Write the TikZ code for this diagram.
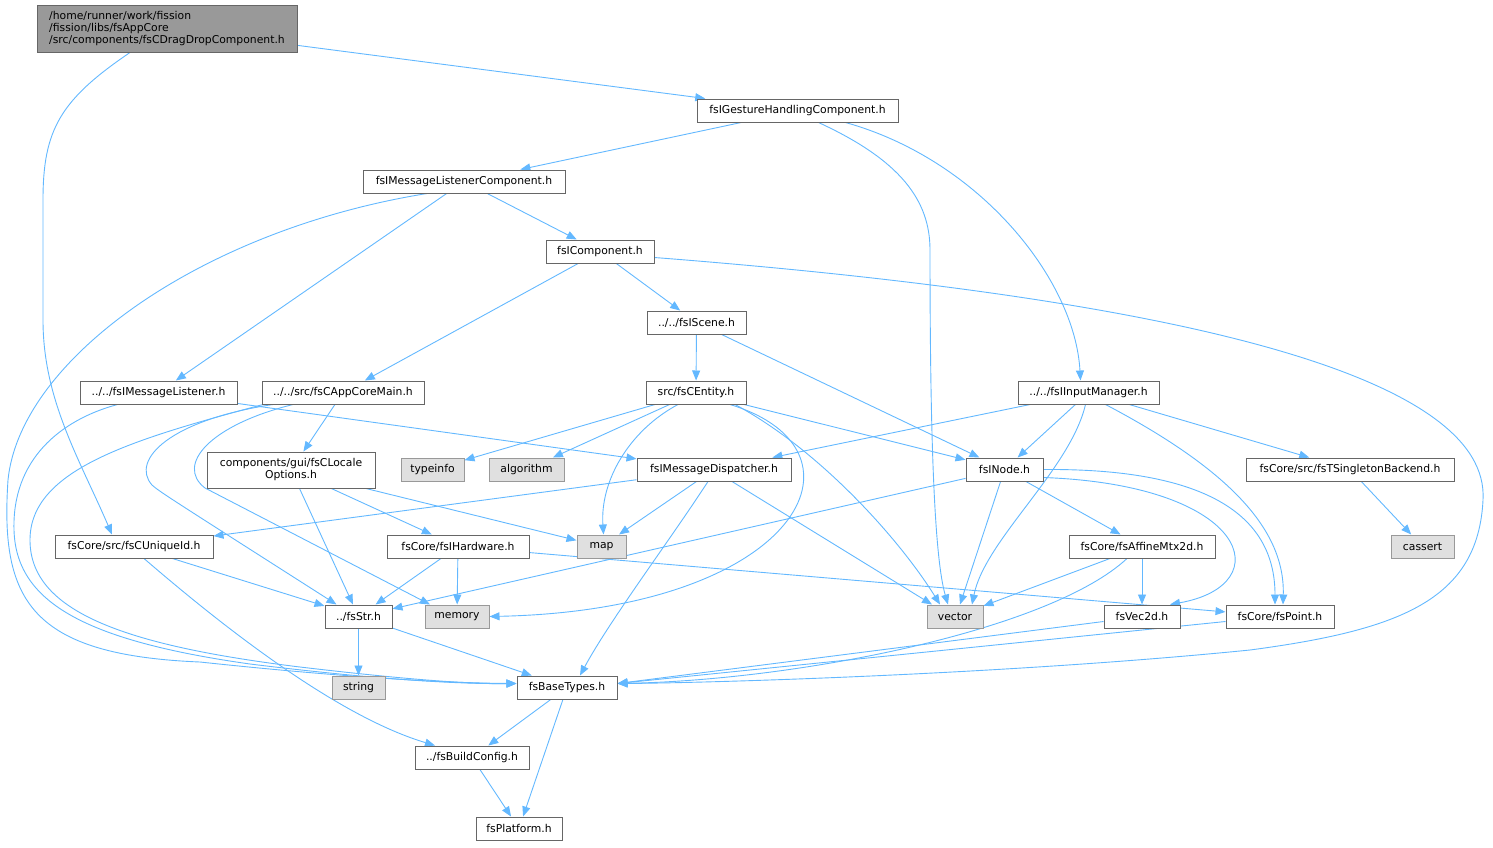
\documentclass[tikz,border=0pt]{standalone}
\usepackage{fontspec}
\setmainfont{DejaVu Sans}
\usepackage{tikz}
\usetikzlibrary{positioning}
\usetikzlibrary{arrows.meta}

\definecolor{edgeblue}{HTML}{63B8FF}
\definecolor{boxgray}{HTML}{666666}
\definecolor{rootfill}{HTML}{999999}
\definecolor{sysfill}{HTML}{E0E0E0}
\definecolor{sysline}{HTML}{999999}

\pgfdeclarelayer{background}
\pgfsetlayers{background,main}

\begin{document}
\begin{tikzpicture}[x=1pt,y=-1pt]

 \tikzset{file node/.style={
 		draw=boxgray, fill=white,
 		line width=1pt,
 		minimum width=#1,
 		minimum height=23pt,
 		inner sep=0pt,
 		font=\fontsize{10.8}{12}\selectfont
 	},
 	file node/.default=100pt,
 	sys node/.style={file node=#1, draw=sysline, fill=sysfill},
 	dep edge/.style={draw=edgeblue, line width=0.9pt,
 		-{Triangle[length=10pt,width=8pt]}}
 }
 \useasboundingbox (0,0) rectangle (1493,847);

 % files
 \node[file node=260pt, fill=rootfill, minimum height=47pt, align=left] (root) at (167,28.5)
 	{/home/runner/work/fission\\/fission/libs/fsAppCore\\/src/components/fsCDragDropComponent.h};
 \node[file node=201pt] (gesture) at (797.5,110.5) {fsIGestureHandlingComponent.h};
 \node[file node=202pt] (listenercomp) at (464,181.5) {fsIMessageListenerComponent.h};
 \node[file node=108pt] (component) at (600,251.5) {fsIComponent.h};
 \node[file node=99pt] (scene) at (696.5,322.5) {../../fsIScene.h};
 \node[file node=157pt] (listener) at (158.5,392.5) {../../fsIMessageListener.h};
 \node[file node=162pt] (coremain) at (343,392.5) {../../src/fsCAppCoreMain.h};
 \node[file node=100pt] (entity) at (696,392.5) {src/fsCEntity.h};
 \node[file node=141pt] (input) at (1088.5,392.5) {../../fsIInputManager.h};
 \node[file node=168pt, minimum height=36pt, align=center] (locale) at (291,470)
 	{components/gui/fsCLocale\\Options.h};
 \node[sys node=63pt] (typeinfo) at (432.5,469.5) {typeinfo};
 \node[sys node=75pt] (algorithm) at (526.5,469.5) {algorithm};
 \node[file node=154pt] (dispatcher) at (714,469.5) {fsIMessageDispatcher.h};
 \node[file node=77pt] (inode) at (1004.5,469.5) {fsINode.h};
 \node[file node=208pt] (singleton) at (1350,469.5) {fsCore/src/fsTSingletonBackend.h};
 \node[file node=158pt] (uniqueid) at (134,546.5) {fsCore/src/fsCUniqueId.h};
 \node[file node=142pt] (hardware) at (458,546.5) {fsCore/fsIHardware.h};
 \node[sys node=49pt] (map) at (601.5,546.5) {map};
 \node[file node=146pt] (affine) at (1142,546.5) {fsCore/fsAffineMtx2d.h};
 \node[sys node=63pt] (cassert) at (1422.5,546.5) {cassert};
 \node[file node=67pt] (str) at (358.5,616.5) {../fsStr.h};
 \node[sys node=64pt] (memory) at (457,616.5) {memory};
 \node[sys node=56pt] (vector) at (955,616.5) {vector};
 \node[file node=76pt] (vec2d) at (1142,616.5) {fsVec2d.h};
 \node[file node=108pt] (point) at (1280,616.5) {fsCore/fsPoint.h};
 \node[sys node=53pt] (string) at (358.5,687.5) {string};
 \node[file node=100pt] (basetypes) at (567,687.5) {fsBaseTypes.h};
 \node[file node=114pt] (buildcfg) at (472,757.5) {../fsBuildConfig.h};
 \node[file node=86pt] (platform) at (519,828.5) {fsPlatform.h};

 \begin{pgfonlayer}{background}
 % root
 \draw[dep edge] (root) -- (gesture);
 \draw[dep edge] ([xshift=-37pt]root.south) .. controls (60,100) and (43,130) .. (43,200)
 	-- (43,320) .. controls (43,400) and (80,460) .. ([xshift=-22pt]uniqueid.north);
 % gesture handling
 \draw[dep edge] (gesture) -- (listenercomp);
 \draw[dep edge] ([xshift=21pt]gesture.south) .. controls (900,160) and (930,200) .. (930,250)
 	.. controls (930,450) and (935,560) .. ([xshift=-7pt]vector.north);
 \draw[dep edge] ([xshift=48pt]gesture.south) .. controls (980,160) and (1075,280) .. ([xshift=-8pt]input.north);
 % listener component
 \draw[dep edge] (listenercomp) -- (component);
 \draw[dep edge] (listenercomp) -- (listener);
 \draw[dep edge] ([xshift=-37pt]listenercomp.south) .. controls (200,230) and (20,360) .. (8,480)
 	.. controls (0,600) and (30,655) .. (200,662) .. controls (350,678) and (450,683) .. ([yshift=4pt]basetypes.west);
 % component
 \draw[dep edge] (component) -- (scene);
 \draw[dep edge] (component) -- (coremain);
 \draw[dep edge] ([yshift=-6pt]component.east) .. controls (1200,300) and (1490,380) .. (1483,500)
 	.. controls (1478,600) and (1400,630) .. (1250,650) .. controls (1000,675) and (700,683) .. ([yshift=4pt]basetypes.east);
 % scene
 \draw[dep edge] (scene) -- (entity);
 \draw[dep edge] (scene) -- (inode);
 % listener
 \draw[dep edge] (listener) -- (dispatcher);
 \draw[dep edge] ([xshift=-41pt]listener.south) .. controls (60,420) and (12,460) .. (14,530)
 	.. controls (16,600) and (80,640) .. (250,664) .. controls (380,680) and (460,684) .. ([yshift=4pt]basetypes.west);
 % app core main
 \draw[dep edge] (coremain) -- (locale);
 \draw[dep edge] ([xshift=-70pt]coremain.south) .. controls (170,420) and (130,460) .. (152,485)
 	.. controls (160,492) and (165,495) .. ([xshift=-22pt]str.north);
 \draw[dep edge] ([xshift=-50pt]coremain.south) .. controls (210,425) and (175,465) .. (205,488)
 	-- ([xshift=-27pt]memory.north);
 \draw[dep edge] ([xshift=-80pt]coremain.south) .. controls (130,440) and (30,470) .. (30,540)
 	.. controls (30,610) and (120,645) .. (300,667) .. controls (410,680) and (470,684) .. ([yshift=4pt]basetypes.west);
 % entity
 \draw[dep edge] (entity) -- (typeinfo);
 \draw[dep edge] (entity) -- (algorithm);
 \draw[dep edge] ([xshift=-18pt]entity.south) .. controls (630,430) and (600,480) .. ([xshift=2pt]map.north);
 \draw[dep edge] ([xshift=34pt]entity.south) .. controls (880,450) and (800,610) .. (memory.east);
 \draw[dep edge] ([xshift=39pt]entity.south) .. controls (820,450) and (900,540) .. ([xshift=-15pt]vector.north);
 \draw[dep edge] (entity) -- (inode);
 % input manager
 \draw[dep edge] (input) -- (dispatcher);
 \draw[dep edge] (input) -- (inode);
 \draw[dep edge] ([xshift=-3pt]input.south) .. controls (1070,470) and (985,540) .. ([xshift=17pt]vector.north);
 \draw[dep edge] ([xshift=17pt]input.south) .. controls (1230,470) and (1285,530) .. ([xshift=3pt]point.north);
 \draw[dep edge] (input) -- (singleton);
 % locale options
 \draw[dep edge] (locale) -- (hardware);
 \draw[dep edge] (locale) -- (map);
 \draw[dep edge] (locale) -- (str);
 % dispatcher
 \draw[dep edge] (dispatcher) -- (uniqueid);
 \draw[dep edge] (dispatcher) -- (map);
 \draw[dep edge] ([xshift=18pt]dispatcher.south) -- ([xshift=-23pt]vector.north);
 \draw[dep edge] ([xshift=-6pt]dispatcher.south) .. controls (670,540) and (610,620) .. ([xshift=13pt]basetypes.north);
 % node
 \draw[dep edge] (inode) -- (str);
 \draw[dep edge] (inode) -- ([xshift=5pt]vector.north);
 \draw[dep edge] (inode) -- (affine);
 \draw[dep edge] ([yshift=-8pt]inode.east) .. controls (1250,485) and (1280,585) .. ([xshift=28pt]vec2d.north);
 \draw[dep edge] (inode.east) .. controls (1230,468) and (1275,530) .. ([xshift=-5pt]point.north);
 % singleton
 \draw[dep edge] (singleton) -- (cassert);
 % unique id
 \draw[dep edge] (uniqueid) -- (str);
 \draw[dep edge] ([xshift=10pt]uniqueid.south) .. controls (250,650) and (350,720) .. ([xshift=-37pt]buildcfg.north);
 % hardware
 \draw[dep edge] (hardware) -- (str);
 \draw[dep edge] (hardware) -- (memory);
 \draw[dep edge] (hardware) -- (point);
 % affine
 \draw[dep edge] (affine) -- (vector);
 \draw[dep edge] (affine) -- (vec2d);
 \draw[dep edge] ([xshift=-15pt]affine.south) .. controls (1050,630) and (800,680) .. ([yshift=4pt]basetypes.east);
 % str, vec2d, point
 \draw[dep edge] (str) -- (string);
 \draw[dep edge] (str) -- (basetypes);
 \draw[dep edge] ([yshift=-5pt]vec2d.west) -- ([yshift=4pt]basetypes.east);
 \draw[dep edge] ([yshift=-5pt]point.west) -- ([yshift=4pt]basetypes.east);
 % base types
 \draw[dep edge] (basetypes) -- (buildcfg);
 \draw[dep edge] (basetypes) -- (platform);
 \draw[dep edge] (buildcfg) -- (platform);
 \end{pgfonlayer}
\end{tikzpicture}
\end{document}
